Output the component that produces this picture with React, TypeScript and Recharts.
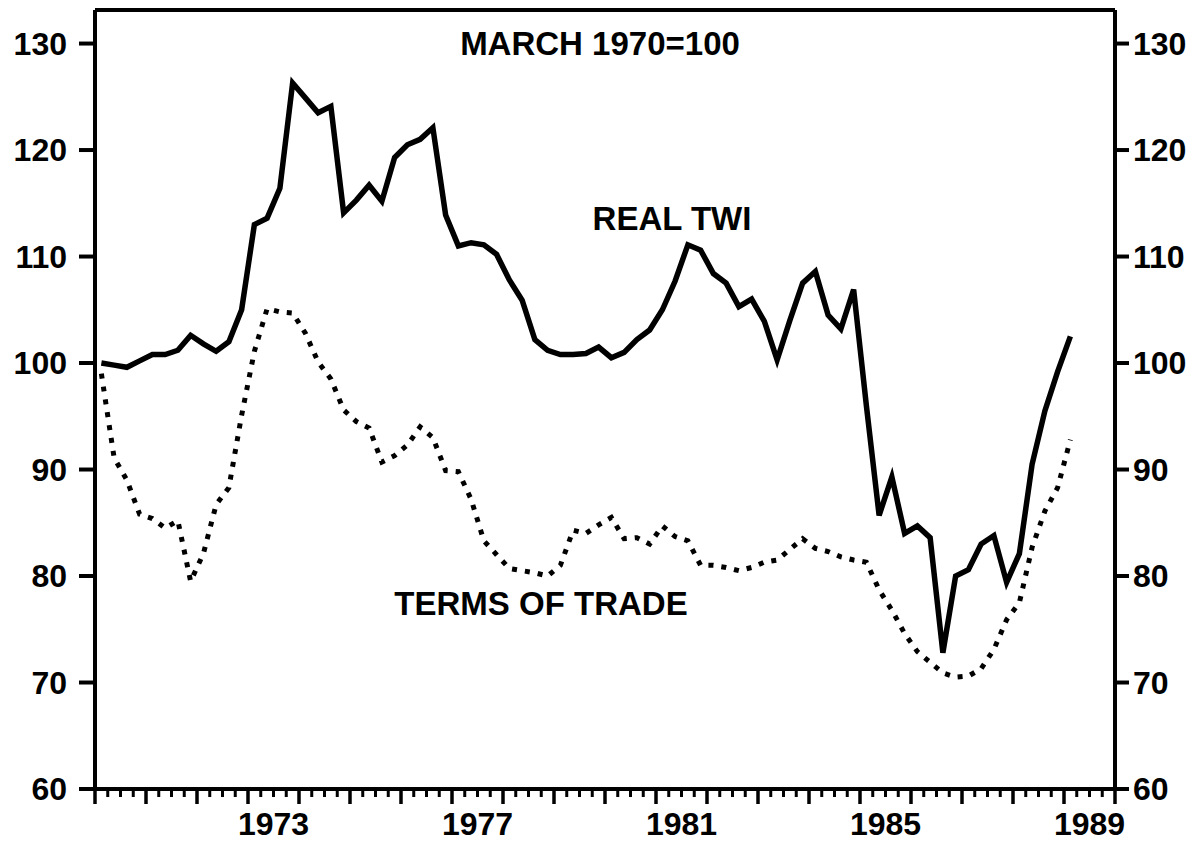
import React from 'react';
import { LineChart, Line, XAxis, YAxis, ReferenceLine } from 'recharts';

// Quarterly periods, 1970Q1 .. 1989Q1
const quarters = [
  '1970Q1','1970Q2','1970Q3','1970Q4','1971Q1','1971Q2','1971Q3','1971Q4',
  '1972Q1','1972Q2','1972Q3','1972Q4','1973Q1','1973Q2','1973Q3','1973Q4',
  '1974Q1','1974Q2','1974Q3','1974Q4','1975Q1','1975Q2','1975Q3','1975Q4',
  '1976Q1','1976Q2','1976Q3','1976Q4','1977Q1','1977Q2','1977Q3','1977Q4',
  '1978Q1','1978Q2','1978Q3','1978Q4','1979Q1','1979Q2','1979Q3','1979Q4',
  '1980Q1','1980Q2','1980Q3','1980Q4','1981Q1','1981Q2','1981Q3','1981Q4',
  '1982Q1','1982Q2','1982Q3','1982Q4','1983Q1','1983Q2','1983Q3','1983Q4',
  '1984Q1','1984Q2','1984Q3','1984Q4','1985Q1','1985Q2','1985Q3','1985Q4',
  '1986Q1','1986Q2','1986Q3','1986Q4','1987Q1','1987Q2','1987Q3','1987Q4',
  '1988Q1','1988Q2','1988Q3','1988Q4','1989Q1',
];

// Real trade-weighted index (March 1970 = 100)
const realTwi = [
  100.0, 99.8, 99.6, 100.2, 100.8, 100.8, 101.2, 102.6, 101.8, 101.1,
  102.0, 105.0, 113.0, 113.6, 116.4, 126.3, 124.9, 123.5, 124.1, 114.1,
  115.3, 116.7, 115.2, 119.3, 120.5, 121.0, 122.1, 113.9, 111.0, 111.3,
  111.1, 110.2, 107.8, 105.9, 102.2, 101.2, 100.8, 100.8, 100.9, 101.5,
  100.5, 101.0, 102.2, 103.1, 105.0, 107.7, 111.1, 110.6, 108.4, 107.5,
  105.3, 106.0, 103.9, 100.3, 104.0, 107.5, 108.6, 104.5, 103.2, 106.9,
  96.0, 85.7, 89.3, 84.0, 84.7, 83.6, 72.8, 80.0, 80.6, 83.0,
  83.8, 79.4, 82.1, 90.5, 95.5, 99.2, 102.5,
];

// Terms of trade (March 1970 = 100)
const termsOfTrade = [
  99.0, 91.1, 89.0, 85.8, 85.4, 84.5, 85.2, 79.5, 82.1, 86.7,
  88.3, 95.1, 101.1, 105.1, 104.8, 104.7, 102.8, 100.1, 98.5, 95.6,
  94.5, 93.9, 90.7, 91.3, 92.3, 94.0, 93.0, 89.9, 89.8, 87.2,
  83.3, 82.0, 80.7, 80.5, 80.3, 80.0, 81.0, 84.3, 84.0, 84.8,
  85.5, 83.5, 83.6, 83.0, 84.7, 83.7, 83.3, 81.0, 81.0, 80.8,
  80.5, 80.8, 81.3, 81.5, 82.5, 83.5, 82.6, 82.3, 81.8, 81.5,
  81.3, 78.7, 76.8, 74.6, 72.9, 71.9, 70.9, 70.5, 70.6, 71.3,
  73.1, 75.9, 77.5, 82.7, 86.1, 88.3, 92.8,
];

const yTicks = [60, 70, 80, 90, 100, 110, 120, 130];
const labelYears = [1973, 1977, 1981, 1985, 1989];
const X_MIN = 1970;
const X_MAX = 1990;
const Y_MIN = 60;
const Y_MAX = 133.15;

const quarterTicks: number[] = [];
for (let q = 0; q <= (X_MAX - X_MIN) * 4; q++) quarterTicks.push(X_MIN + q / 4);

const data = quarters.map((p, i) => {
  const yr = parseInt(p.slice(0, 4), 10);
  const q = parseInt(p.slice(5), 10);
  return { period: p, t: yr + (q - 1) / 4 + 0.125, twi: realTwi[i], tot: termsOfTrade[i] };
});

const FONT = '"Liberation Sans", Arial, Helvetica, sans-serif';

const XTick = (props: any) => {
  const { x, y, payload } = props;
  const v: number = payload.value;
  const isYear = Math.abs(v - Math.round(v)) < 1e-6;
  const lab = labelYears.find((yr) => Math.abs(yr + 0.5 - v) < 1e-6);
  return (
    <g>
      <line x1={x} x2={x} y1={y} y2={y + (isYear ? 15 : 8)} stroke="#000" strokeWidth={isYear ? 3.5 : 3} />
      {lab !== undefined && (
        <text x={x} y={y + 46} textAnchor="middle" fontFamily={FONT} fontSize={32} fontWeight="bold" fill="#000">
          {lab}
        </text>
      )}
    </g>
  );
};

const tickStyle = { fontSize: 32, fontFamily: FONT, fontWeight: 'bold', fill: '#000' } as any;

export default function App() {
  return (
    <div style={{ position: 'absolute', left: 0, top: 0, width: 1204, height: 841, background: '#fff' }}>
      <LineChart
        width={1204}
        height={841}
        data={data}
        margin={{ top: 10, right: 0, bottom: 0, left: 0 }}
      >
        <XAxis
          dataKey="t"
          type="number"
          domain={[X_MIN, X_MAX]}
          ticks={quarterTicks}
          interval={0}
          allowDataOverflow
          height={52}
          axisLine={{ stroke: '#000', strokeWidth: 4 }}
          tickLine={false}
          tickSize={0}
          tickMargin={0}
          tick={<XTick />}
        />
        <YAxis
          yAxisId="left"
          domain={[Y_MIN, Y_MAX]}
          ticks={yTicks}
          interval={0}
          allowDataOverflow
          width={95}
          axisLine={{ stroke: '#000', strokeWidth: 4 }}
          tickLine={{ stroke: '#000', strokeWidth: 4 }}
          tickSize={16}
          tickMargin={12}
          tick={tickStyle}
        />
        <YAxis
          yAxisId="right"
          orientation="right"
          domain={[Y_MIN, Y_MAX]}
          ticks={yTicks}
          interval={0}
          allowDataOverflow
          width={89}
          axisLine={{ stroke: '#000', strokeWidth: 4 }}
          tickLine={{ stroke: '#000', strokeWidth: 4 }}
          tickSize={14}
          tickMargin={4}
          tick={tickStyle}
        />
        <ReferenceLine yAxisId="left" y={Y_MAX} stroke="#000" strokeWidth={4} />
        <Line
          yAxisId="left"
          type="linear"
          dataKey="twi"
          stroke="#000"
          strokeWidth={5.5}
          dot={false}
          isAnimationActive={false}
        />
        <Line
          yAxisId="left"
          type="linear"
          dataKey="tot"
          stroke="#000"
          strokeWidth={5}
          strokeDasharray="5 8"
          dot={false}
          isAnimationActive={false}
        />
      </LineChart>
      <svg width={1204} height={841} style={{ position: 'absolute', left: 0, top: 0, pointerEvents: 'none' }}>
        <text x={600} y={55} textAnchor="middle" fontFamily={FONT} fontSize={33} fontWeight="bold" fill="#000">
          MARCH 1970=100
        </text>
        <text x={672} y={230} textAnchor="middle" fontFamily={FONT} fontSize={33} fontWeight="bold" fill="#000">
          REAL TWI
        </text>
        <text x={541} y={615} textAnchor="middle" fontFamily={FONT} fontSize={33} fontWeight="bold" fill="#000">
          TERMS OF TRADE
        </text>
      </svg>
    </div>
  );
}
